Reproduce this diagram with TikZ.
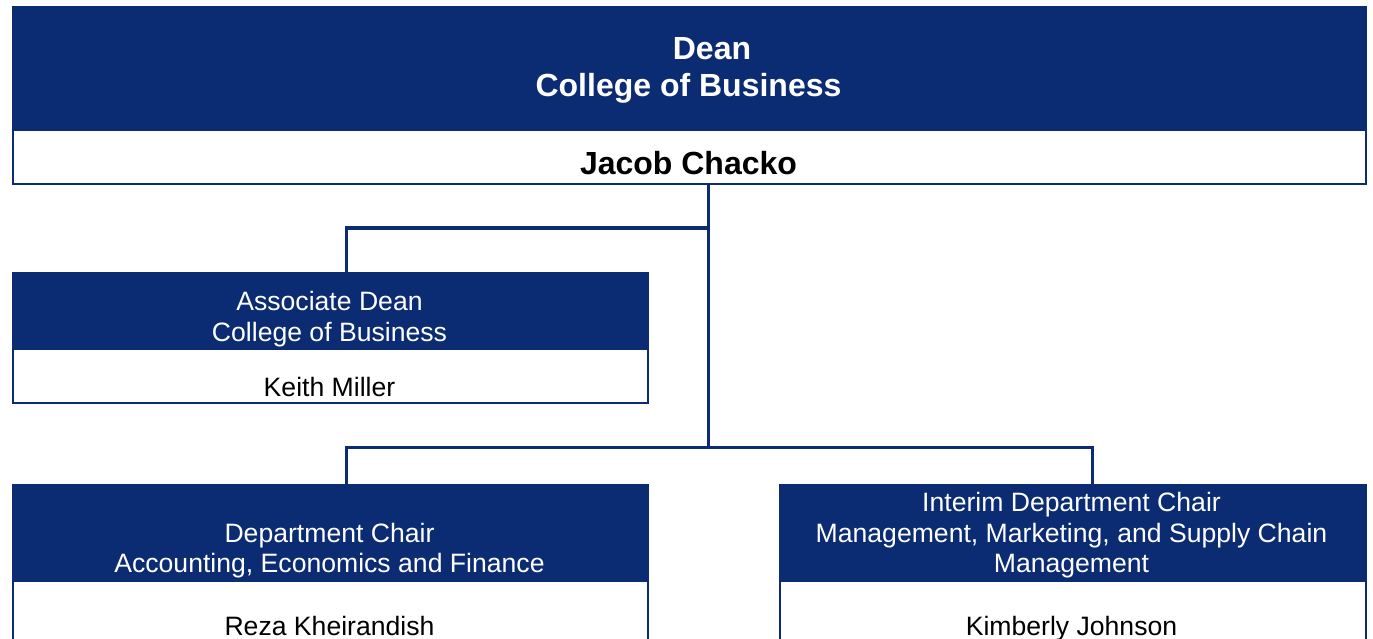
\documentclass[tikz,border=0pt]{standalone}
\usepackage{fontspec}
\setmainfont{Liberation Sans}
\definecolor{navy}{RGB}{11,43,114}
\tikzset{
  head/.style={draw=navy, fill=navy, line width=2pt, anchor=north west, inner sep=0pt},
  namebox/.style={draw=navy, fill=white, line width=2pt, anchor=north west, inner sep=0pt},
  bigw/.style={anchor=base, text=white, font=\fontsize{32}{37}\selectfont\bfseries, inner sep=0pt},
  bigk/.style={anchor=base, text=black, font=\fontsize{32}{37}\selectfont\bfseries, inner sep=0pt},
  smw/.style={anchor=base, text=white, font=\fontsize{26.6}{30}\selectfont, inner sep=0pt},
  smk/.style={anchor=base, text=black, font=\fontsize{26.6}{30}\selectfont, inner sep=0pt},
  conn/.style={draw=navy, line width=3pt}
}
\begin{document}
\begin{tikzpicture}[x=1pt,y=-1pt]
\clip (0,0) rectangle (1373,639);
\fill[white] (0,0) rectangle (1373,639);
% Dean
\node[head, minimum width=1353pt, minimum height=123pt] (deanhead) at (11.5,6) {};
\node[namebox, minimum width=1353pt, minimum height=54pt] (deanname) at (11.5,129) {};
\node[bigw] (dean-t1) at (712,59.5) {Dean};
\node[bigw] (dean-t2) at (688.5,97) {College of Business};
\node[bigk] (dean-n) at (688.5,174.5) {Jacob Chacko};
% Associate Dean
\node[head, minimum width=635pt, minimum height=76pt] (assochead) at (11.5,272) {};
\node[namebox, minimum width=635pt, minimum height=54pt] (assocname) at (11.5,348) {};
\node[smw] (assoc-t1) at (329.5,310) {Associate Dean};
\node[smw] (assoc-t2) at (329.5,341) {College of Business};
\node[smk] (assoc-n) at (329.5,396) {Keith Miller};
% Department Chair
\node[head, minimum width=635pt, minimum height=96pt] (depthead) at (11.5,484) {};
\node[namebox, minimum width=635pt, minimum height=80pt] (deptname) at (11.5,580) {};
\node[smw] (dept-t1) at (329.5,542.5) {Department Chair};
\node[smw] (dept-t2) at (329.5,572.5) {Accounting, Economics and Finance};
\node[smk] (dept-n) at (329.5,635.5) {Reza Kheirandish};
% Interim Department Chair
\node[head, minimum width=586pt, minimum height=96pt] (inthead) at (778.5,484) {};
\node[namebox, minimum width=586pt, minimum height=80pt] (intname) at (778.5,580) {};
\node[smw] (int-t1) at (1071.5,511.5) {Interim Department Chair};
\node[smw] (int-t2) at (1071.5,542.5) {Management, Marketing, and Supply Chain};
\node[smw] (int-t3) at (1071.5,572.5) {Management};
\node[smk] (int-n) at (1071.5,635.5) {Kimberly Johnson};
% connectors
\coordinate (j1) at (708,228);
\coordinate (j2) at (708,447);
\coordinate (a1) at (346,228);
\coordinate (b1) at (346,447);
\coordinate (c1) at (1092,447);
\draw[conn] (deanname.south -| j1) -- (j2);
\draw[conn] (j1) -- (a1) -- (a1 |- assochead.north);
\draw[conn] (b1 |- depthead.north) -- (b1) -- (c1) -- (c1 |- inthead.north);
\end{tikzpicture}
\end{document}
